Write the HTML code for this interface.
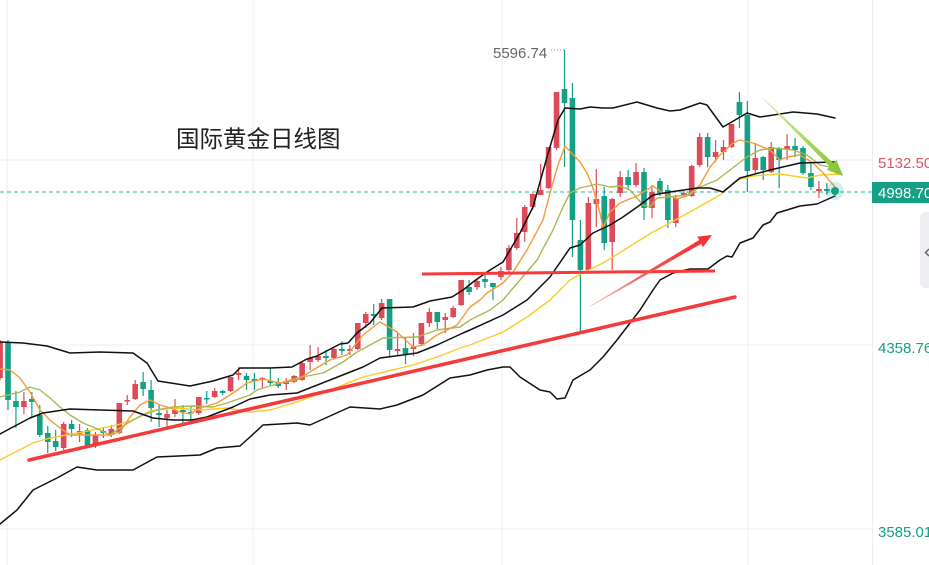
<!DOCTYPE html>
<html><head><meta charset="utf-8"><style>
html,body{margin:0;padding:0;background:#fff;}
body{width:929px;height:565px;overflow:hidden;}
svg{display:block;}
</style></head><body>
<svg width="929" height="565" viewBox="0 0 929 565" xmlns="http://www.w3.org/2000/svg">
<defs>
<linearGradient id="gr" x1="590" y1="306" x2="712" y2="235" gradientUnits="userSpaceOnUse"><stop offset="0" stop-color="#ffb0b0"/><stop offset="0.5" stop-color="#f55050"/><stop offset="1" stop-color="#f23030"/></linearGradient>
<linearGradient id="gg" x1="763" y1="98" x2="843" y2="176" gradientUnits="userSpaceOnUse"><stop offset="0" stop-color="#d6ec9a"/><stop offset="1" stop-color="#86c232"/></linearGradient>
</defs>
<g stroke="#f0f1f4" stroke-width="1.2">
<path d="M7 0V565M253 0V565M502 0V565M748 0V565M0 160H872M0 345H872M0 529H872"/>
</g>
<line x1="872.5" y1="0" x2="872.5" y2="565" stroke="#eceef2" stroke-width="1.2"/>
<text x="176" y="147" font-family="'Liberation Sans','Noto Sans CJK SC',sans-serif" font-size="23.5" fill="#222">国际黄金日线图</text>
<line x1="0" y1="192" x2="872" y2="192" stroke="#2fb59b" stroke-width="1" stroke-dasharray="4 3"/>
<path fill="none" stroke="#dd4b59" stroke-width="1.2" d="M0.05 340V380M23.9 392V414M63.65 422V450M79.55 424V442M95.45 432V448M111.35 425V437M119.3 403V434M127.25 395V405M135.2 380V400M167 410V427M174.95 399V417M198.8 397V415M214.7 388V398M230.6 377V392M238.55 367V380M262.4 377V388M286.25 378V390M294.2 375V383M302.15 362V381M310.1 345V370M318.05 347V362M333.95 348V359M349.85 345V355M357.8 323V350M365.75 312V328M381.65 299V320M397.55 333V355M413.45 333V356M421.4 323V345M429.35 308V327M445.25 313V333M453.2 306V318M461.15 280V306M477.05 278V290M500.9 267V280M508.85 245V273M516.8 218V250M524.75 205V242M532.7 193V210M540.65 164V195M548.6 147V189M556.55 92V150M588.35 197V270M596.3 169V227M612.2 198V270M620.15 171V197M636.05 163V187M651.95 185V218M675.8 195V227M683.75 191V196M691.7 165V197M699.65 133V167M715.55 140V162M723.5 140V160M731.45 124V148M755.3 143V173M771.2 142V173M787.1 134V160M818.9 181V198"/>
<path fill="none" stroke="#dd4b59" stroke-width="5.6" d="M0.05 342V378M23.9 401V407M63.65 424V448M79.55 431V434M95.45 435V446M111.35 429V435M119.3 403V433M127.25 400V401.5M135.2 384V399M167 414V418M174.95 410V414M198.8 397V413M214.7 391V397M230.6 377V391M238.55 373V375M262.4 378V380M286.25 382V384M294.2 376V382M302.15 363V380M310.1 358V362M318.05 356V360M333.95 349V358M349.85 349V351M357.8 323V349M365.75 314V323M381.65 303V318M397.55 349V351M413.45 347V349M421.4 323V344M429.35 312V323M445.25 317V320M453.2 308V317M461.15 280V305M477.05 281V287M500.9 271V277M508.85 248V270M516.8 233V248M524.75 207V232M532.7 194V207M540.65 190V195M548.6 147V188M556.55 92V148M588.35 203V270M596.3 199V204M612.2 199V242M620.15 177V193M636.05 172V185M651.95 192V208M675.8 198V223M683.75 193V195M691.7 166V196M699.65 137V165M715.55 152V157M723.5 147V152M731.45 124V147M755.3 158V170M771.2 147V172M787.1 146V150M818.9 189V191"/>
<path fill="none" stroke="#13a085" stroke-width="1.2" d="M8 340V410M15.95 391V428M31.85 392V417M39.8 405V437M47.75 426V453M55.7 430V451M71.6 420V437M87.5 428V447M103.4 427V438M143.15 372V396M151.1 380V422M159.05 405V427M182.9 405V423M190.85 406V422M206.75 391V404M222.65 390V395M246.5 373V390M254.45 373V390M270.35 368V385M278.3 378V388M326 350V365M341.9 341V355M373.7 304V325M389.6 299V357M405.5 338V364M437.3 312V329M469.1 280V295M485 273V288M492.95 283V300M564.5 50V167M572.45 83V257M580.4 220V332M604.25 187V250M628.1 170V190M644 168V220M659.9 178V196M667.85 185V228M707.6 133V167M739.4 92V128M747.35 101V192M763.25 156V180M779.15 147V188M795.05 138V157M803 146V175M810.95 163V190M826.85 183V195"/>
<path fill="none" stroke="#13a085" stroke-width="5.6" d="M8 343V400M15.95 401V407M31.85 399V402M39.8 415V435M47.75 433V442M55.7 441V447M71.6 424V429M87.5 430V445M103.4 431V433M143.15 382V389M151.1 390V408M159.05 413V415M182.9 410V412M190.85 412V413.5M206.75 398V399.5M222.65 391V393M246.5 376V380M254.45 379V381M270.35 381V383M278.3 382V386M326 356V358M341.9 349V351M373.7 314V316M389.6 299V350M405.5 348V354M437.3 312V322M469.1 287V292M485 279V282M492.95 283V287M564.5 89V103M572.45 98V220M580.4 240V270M604.25 196V243M628.1 177V185M644 172V208M659.9 181V193M667.85 190V220M707.6 137V157M739.4 102V115M747.35 115V171M763.25 157V170M779.15 148V160M795.05 146V150M803 148V173M810.95 173V187M826.85 189V191"/>
<g fill="none" stroke-linejoin="round" stroke-linecap="round">
<polyline stroke="#f9cc2a" stroke-width="1.4" points="0,460 33,443 50,438 83,432 117,425 133,420 150,411 173,408 200,410 227,408 250,412 270,410 297,402 330,390 363,377 380,373 413,365 437,357 463,347 470,345 503,332 527,317 550,300 570,280 583,273 603,263 613,257 627,248 640,240 653,232 670,223 697,208 720,195 737,180 753,176 780,174 800,177 807,178 820,175 840,174"/>
<polyline stroke="#a6bb52" stroke-width="1.4" points="0,397 20,392 30,387 40,390 50,398 60,407 70,415 83,423 100,430 110,435 120,428 133,420 143,415 157,410 173,407 193,406 213,407 227,403 250,395 257,390 280,383 297,378 323,373 343,362 357,352 370,345 383,338 417,337 437,330 460,327 470,320 490,310 503,300 520,280 537,260 553,230 563,207 570,193 580,188 597,184 610,187 620,186 630,190 643,205 650,207 657,198 670,197 687,195 700,187 717,180 730,170 747,157 760,150 773,148 793,150 807,155 820,165 835,168"/>
<polyline stroke="#f7993c" stroke-width="1.4" points="0,369 10,370 20,378 30,392 40,410 50,420 60,428 70,435 97,435 110,435 120,432 130,417 140,405 150,400 160,405 170,408 180,412 190,414 200,408 217,403 233,393 247,383 263,379 280,383 297,380 313,370 330,360 347,355 363,335 380,322 397,332 413,347 423,345 437,335 457,325 470,307 480,300 487,293 503,283 513,272 527,250 543,220 550,193 558,165 565,146 580,162 587,173 593,188 600,213 603,228 610,212 620,203 637,196 653,186 663,193 677,199 690,195 700,185 710,167 720,155 733,143 740,140 753,143 770,150 780,160 787,157 800,155 813,163 823,173 835,187"/>
<g stroke="#111" stroke-width="1.5">
<polyline points="0,342 23,343 47,346 70,353 100,352 133,353 147,363 158,381 190,386 213,381 233,375 240,368 250,368 270,368 292,367 307,359 317,356 340,344 348,343 357,333 370,323 382,308 413,307 430,301 452,297 463,290 473,282 487,272 503,262 520,233 533,207 547,157 558,120 565,108 580,109 590,107 603,108 613,108 637,102 657,108 670,111 680,110 700,103 707,105 723,127 730,123 747,113 760,117 793,112 817,114 835,118"/>
<polyline points="0,434 13,427 30,418 43,413 70,409 100,410 133,411 153,418 173,420 192,420 207,417 233,407 250,399 270,395 297,393 330,380 363,367 380,358 403,355 417,353 437,345 463,333 470,330 503,315 527,300 550,277 570,248 580,245 593,233 610,225 623,217 640,205 653,195 670,192 697,188 710,188 723,192 740,178 770,170 800,163 835,162"/>
<polyline points="0,524 17,510 33,490 57,478 77,467 97,470 133,470 157,457 200,455 217,448 240,446 250,437 263,425 297,423 310,425 350,407 380,409 397,405 423,395 450,378 470,375 487,370 503,367 510,367 520,377 540,390 550,392 557,399 565,398 573,380 590,370 603,357 617,340 630,323 640,310 653,290 660,280 673,273 690,269 708,269 720,260 727,256 732,257 740,243 753,238 763,225 770,222 777,213 800,206 817,204 835,196"/>
</g>
</g>
<line x1="29" y1="460" x2="735" y2="297" stroke="#f33b3b" stroke-width="3.5" stroke-linecap="round"/>
<line x1="422" y1="274" x2="715" y2="271" stroke="#f33b3b" stroke-width="3"/>
<polygon fill="url(#gr)" points="590,306 699.2,240 698.2,238 696.9,236.8 712,235 702.9,247.2 701.6,244.3 700.6,244.2 590.3,306.5"/>
<polygon fill="url(#gg)" points="763,98 833.3,163.0 836.4,159.8 843,176 826.6,169.8 829.7,166.6 762.6,98.4"/>
<text x="493" y="58" font-family="'Liberation Sans',sans-serif" font-size="15" fill="#666">5596.74</text>
<line x1="551" y1="50" x2="565" y2="50" stroke="#888" stroke-width="1" stroke-dasharray="1 2"/>
<circle cx="835" cy="191" r="9" fill="#13a085" opacity="0.18"/>
<circle cx="835" cy="191" r="4" fill="#13a085"/>
<g font-family="'Liberation Sans',sans-serif" font-size="15">
<text x="878" y="168" fill="#e05561">5132.50</text>
<rect x="872" y="182" width="57" height="21" fill="#13a085"/>
<text x="878" y="198" fill="#fff">4998.70</text>
<text x="878" y="353" fill="#13a085">4358.76</text>
<text x="878" y="537" fill="#13a085">3585.01</text>
</g>
<rect x="920" y="212" width="20" height="76" rx="5" fill="#eeeff3"/>
<path d="M929 249 L925.5 252.5 L929 256" fill="none" stroke="#666" stroke-width="1.5"/>
</svg>
</body></html>
